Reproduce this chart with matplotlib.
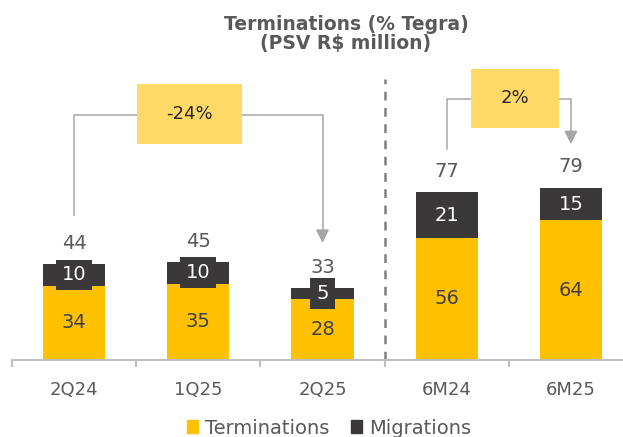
import matplotlib
matplotlib.use("Agg")
import matplotlib.pyplot as plt
from matplotlib.patches import Rectangle, Patch

# Data (PSV R$ million)
categories = ["2Q24", "1Q25", "2Q25", "6M24", "6M25"]
terminations = [34, 35, 28, 56, 64]
migrations = [10, 10, 5, 21, 15]
totals = [44, 45, 33, 77, 79]

# Variation callouts: (from index, to index, label)
changes = [(0, 2, "-24%"), (3, 4, "2%")]

YELLOW = "#FFC000"
DARK = "#3A3838"
BOX = "#FFD966"
LINE = "#BFBFBF"
ARROW = "#A6A6A6"
TEXT = "#595959"
VALUE = "#404040"

plt.rcParams["font.family"] = ["DejaVu Sans"]

fig = plt.figure(figsize=(6.23, 4.37), dpi=100)
ax = fig.add_axes([12 / 623, 77 / 437, 621 / 623, 320 / 437])
ax.set_xlim(-0.5, 4.5)
ax.set_ylim(0, 146.8)

x = list(range(len(categories)))
ax.bar(x, terminations, width=0.5, color=YELLOW, zorder=2)
ax.bar(x, migrations, width=0.5, bottom=terminations, color=DARK, zorder=2)

for i in x:
    ax.text(i, terminations[i] / 2, str(terminations[i]), ha="center", va="center",
            fontsize=14, color=VALUE, zorder=4)
    ax.text(i, terminations[i] + migrations[i] / 2, str(migrations[i]), ha="center",
            va="center", fontsize=14, color="white", zorder=4,
            bbox=dict(boxstyle="square,pad=0.3", fc=DARK, ec="none"))
    ax.annotate(str(totals[i]), (i, totals[i]), xytext=(0, 15), textcoords="offset points",
                ha="center", va="center", fontsize=14, color=TEXT)

# dashed separator between quarters and semesters
ax.plot([2.5, 2.5], [0, 129], color="#7F7F7F", lw=1.8, ls=(0, (3.5, 3)), zorder=1)

# callout brackets with yellow boxes
brackets = [
    # top, left gap, right gap, box centre x, box width, box height, box centre y
    (112.5, 22.5, 20.7, 0.93, 0.85, 27.5, 113),
    (119.7, 19.8, 20.0, 3.55, 0.71, 27.0, 120),
]
for (i0, i1, label), (top, g0, g1, bx, bw, bh, by) in zip(changes, brackets):
    ax.plot([i0, i0, i1, i1], [totals[i0] + g0, top, top, totals[i1] + g1 + 5],
            color=ARROW, lw=1.1, zorder=1)
    ax.annotate("", xy=(i1, totals[i1] + g1), xytext=(i1, totals[i1] + g1 + 6),
                arrowprops=dict(arrowstyle="-|>,head_length=0.8,head_width=0.4",
                                color=ARROW, lw=1.1, shrinkA=0, shrinkB=0))
    ax.add_patch(Rectangle((bx - bw / 2, by - bh / 2), bw, bh, fc=BOX, ec="none", zorder=3))
    ax.text(bx, by, label, ha="center", va="center", fontsize=13, color="#262626", zorder=4)

# axis styling
for side in ("top", "right", "left"):
    ax.spines[side].set_visible(False)
ax.spines["bottom"].set_color(LINE)
ax.spines["bottom"].set_linewidth(1.5)
ax.set_yticks([])
ax.set_xticks(x)
ax.set_xticklabels(categories, fontsize=13, color=TEXT)
ax.tick_params(axis="x", which="major", length=0, pad=15)
ax.set_xticks([i - 0.5 for i in range(len(categories) + 1)], minor=True)
ax.tick_params(axis="x", which="minor", length=5, width=1.5, color=LINE, direction="out")

fig.text(346 / 623, 1 - 34 / 437, "Terminations (% Tegra)\n(PSV R$ million)", ha="center",
         va="center", fontsize=13.5, fontweight="bold", color=TEXT, linespacing=1.05)

handles = [Patch(color=YELLOW), Patch(color=DARK)]
leg = fig.legend(handles, ["Terminations", "Migrations"], loc="center",
                 bbox_to_anchor=(329 / 623, 1 - 428 / 437), ncol=2, frameon=False,
                 fontsize=14, handlelength=0.6, handleheight=0.6, handletextpad=0.35,
                 columnspacing=1.1)
for t in leg.get_texts():
    t.set_color(TEXT)

fig.savefig("out.png", dpi=100, facecolor="white")
